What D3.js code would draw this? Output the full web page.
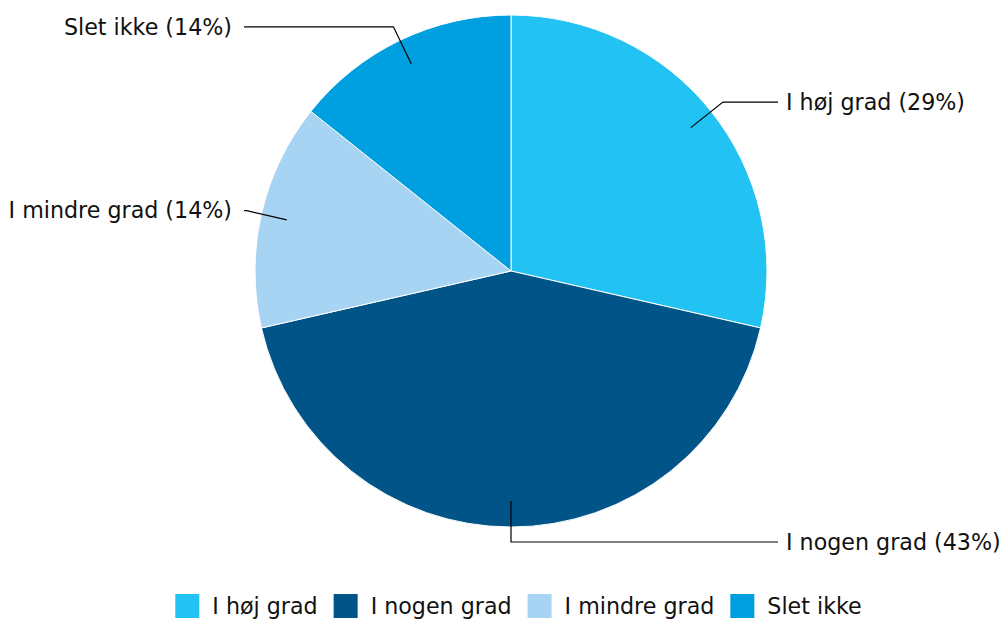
<!DOCTYPE html>
<html>
<head>
<meta charset="utf-8">
<script src="https://cdn.jsdelivr.net/npm/d3@7"></script>
<style>
  body { margin: 0; background: #fff; }
  text { font-family: "DejaVu Sans", Verdana, sans-serif; font-size: 22.2px; fill: #111; }
</style>
</head>
<body>
<svg id="chart" width="1004" height="619"></svg>
<script>
// data (7 answers in total)
var categories = ["I høj grad", "I nogen grad", "I mindre grad", "Slet ikke"];
var counts = [2, 3, 1, 1];
var percentLabels = ["29%", "43%", "14%", "14%"];
var colors = ["#22c3f3", "#005487", "#a8d4f4", "#009fe0"];

var width = 1004, height = 619;
var cx = 511, cy = 271, radius = 256;

var svg = d3.select("#chart");

var data = categories.map(function (c, i) {
    return { label: c, value: counts[i], pct: percentLabels[i], color: colors[i] };
});

var pie = d3.pie().sort(null).value(function (d) { return d.value; });
var arc = d3.arc().innerRadius(0).outerRadius(radius);

var g = svg.append("g").attr("transform", "translate(" + cx + "," + cy + ")");

g.selectAll(".slice")
    .data(pie(data))
    .enter()
    .append("path")
    .attr("class", "slice")
    .attr("d", arc)
    .attr("fill", function (d) { return d.data.color; })
    .attr("stroke", "#fff")
    .attr("stroke-width", 1);

// connector lines + labels
function polar(r, a) {
    return [r * Math.sin(a), -r * Math.cos(a)];
}

function isRight(d) {
    var mid = (d.startAngle + d.endAngle) / 2;
    return Math.sin(mid) >= -1e-6;
}

var labelR = radius + 15;
var startR = radius - 26;

g.selectAll(".connector")
    .data(pie(data))
    .enter()
    .append("path")
    .attr("class", "connector")
    .attr("fill", "none")
    .attr("stroke", "#000")
    .attr("stroke-width", 1.2)
    .attr("d", function (d) {
        var mid = (d.startAngle + d.endAngle) / 2;
        var p0 = polar(startR, mid);
        var p1 = polar(labelR, mid);
        var xEnd = isRight(d) ? radius + 11 : -(radius + 11);
        return d3.line()([p0, p1, [xEnd, p1[1]]]);
    });

g.selectAll(".label")
    .data(pie(data))
    .enter()
    .append("text")
    .attr("class", "label")
    .attr("x", function (d) {
        return isRight(d) ? radius + 19 : -(radius + 23);
    })
    .attr("y", function (d) {
        var mid = (d.startAngle + d.endAngle) / 2;
        return polar(labelR, mid)[1];
    })
    .attr("dy", "0.35em")
    .attr("text-anchor", function (d) {
        return isRight(d) ? "start" : "end";
    })
    .text(function (d) { return d.data.label + " (" + d.data.pct + ")"; });

// legend
var legend = svg.append("g").attr("class", "legend");
var box = 24, textGap = 13, itemGap = 16;
var x = 0;
data.forEach(function (d) {
    var item = legend.append("g").attr("transform", "translate(" + x + ",0)");
    item.append("rect")
        .attr("x", 0).attr("y", -box / 2)
        .attr("width", box).attr("height", box)
        .attr("fill", d.color);
    var t = item.append("text")
        .attr("x", box + textGap)
        .attr("y", 0)
        .attr("dy", "0.35em")
        .text(d.label);
    x += box + textGap + t.node().getComputedTextLength() + itemGap;
});
var legendW = x - itemGap;
legend.attr("transform", "translate(" + (518.5 - legendW / 2) + ",606)");
</script>
</body>
</html>
